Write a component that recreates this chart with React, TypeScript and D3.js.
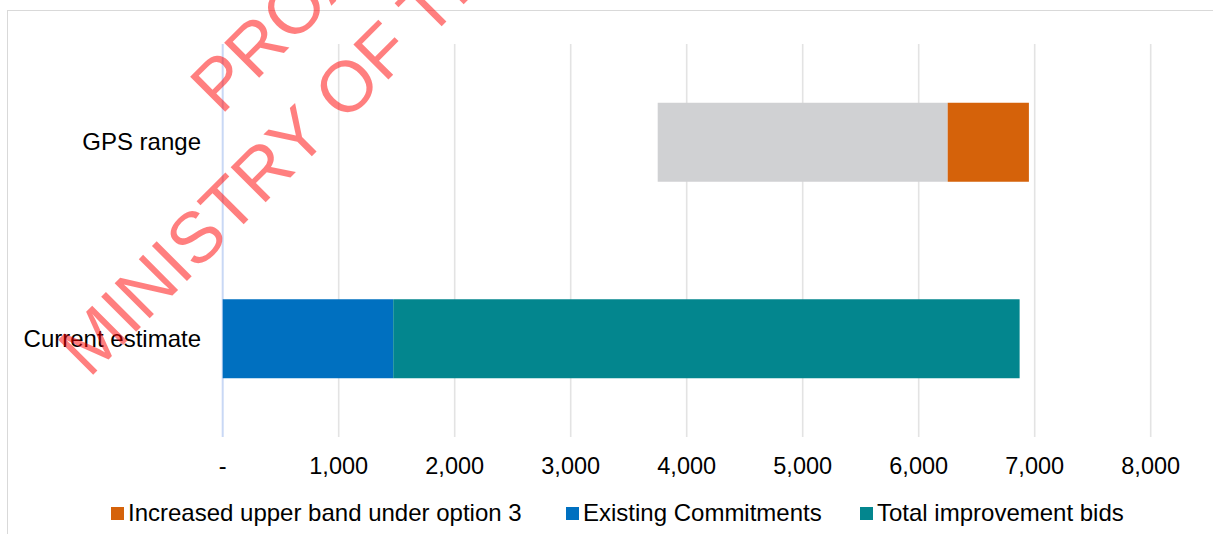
import React from "react";
import * as d3 from "d3";

const categories = ["GPS range", "Current estimate"];
const seriesKeys = ["offset", "gpsBand", "increased", "existing", "improvement"];
const offsetValues = [3750, 0];
const gpsBandValues = [2500, 0];
const increasedValues = [700, 0];
const existingValues = [0, 1470];
const improvementValues = [0, 5400];
const xTicks = [0, 1000, 2000, 3000, 4000, 5000, 6000, 7000, 8000];
const legendItems = [
  { key: "increased", label: "Increased upper band under option 3" },
  { key: "existing", label: "Existing Commitments" },
  { key: "improvement", label: "Total improvement bids" },
];
const watermarkLines = ["PROACTIVELY RELEASED BY THE", "MINISTRY OF TRANSPORT"];

const colors: Record<string, string> = {
  offset: "none",
  gpsBand: "#D0D1D3",
  increased: "#D5620A",
  existing: "#0070C0",
  improvement: "#03868E",
};

const W = 1213;
const H = 534;
const FONT = "'Liberation Sans', Arial, sans-serif";

export default function App() {
  const rows = categories.map((c, i) => ({
    category: c,
    offset: offsetValues[i],
    gpsBand: gpsBandValues[i],
    increased: increasedValues[i],
    existing: existingValues[i],
    improvement: improvementValues[i],
  }));
  const stacked = d3.stack<any>().keys(seriesKeys)(rows);

  const x = d3.scaleLinear().domain([0, 8000]).range([222.7, 1150.7]);
  const y = d3
    .scaleBand<string>()
    .domain(categories)
    .range([44, 437])
    .paddingInner(0.598)
    .paddingOuter(0.299);

  const fmt = (v: number) => (v === 0 ? "-" : d3.format(",")(v));
  const legendX = [111, 566, 860];

  return (
    <div style={{ position: "absolute", left: 0, top: 0 }}>
      <svg width={W} height={H} style={{ display: "block", background: "#fff" }}>
        <rect x={7.5} y={10.5} width={W + 10} height={H + 10} fill="#fff" stroke="#D9D9D9" strokeWidth={1} />
        {xTicks.map((t) => (
          <line
            key={t}
            x1={x(t)}
            x2={x(t)}
            y1={44}
            y2={437}
            stroke={t === 0 ? "#C9D8F5" : "#E3E3E3"}
            strokeWidth={t === 0 ? 2 : 1.6}
          />
        ))}
        {stacked.map((s) =>
          s.key === "offset"
            ? null
            : s.map((d, i) =>
                d[1] - d[0] > 0 ? (
                  <rect
                    key={s.key + i}
                    x={x(d[0])}
                    width={x(d[1]) - x(d[0])}
                    y={y(categories[i])}
                    height={y.bandwidth()}
                    fill={colors[s.key]}
                  />
                ) : null
              )
        )}
        {xTicks.map((t) => (
          <text
            key={"l" + t}
            x={x(t)}
            y={474}
            textAnchor="middle"
            fontFamily={FONT}
            fontSize={23.5}
            fill="#000"
          >
            {fmt(t)}
          </text>
        ))}
        {categories.map((c) => (
          <text
            key={c}
            x={201}
            y={(y(c) as number) + y.bandwidth() / 2 + 8}
            textAnchor="end"
            fontFamily={FONT}
            fontSize={24}
            fill="#000"
          >
            {c}
          </text>
        ))}
        {legendItems.map((it, i) => (
          <g key={it.key} transform={`translate(${legendX[i]},507)`}>
            <rect x={0} y={0} width={13} height={13} fill={colors[it.key]} />
            <text x={17} y={13.5} fontFamily={FONT} fontSize={24} fill="#000">
              {it.label}
            </text>
          </g>
        ))}
        <g fill="#FF0000" fillOpacity={0.5} fontFamily={FONT} fontSize={72}>
          <text transform="translate(221,116) rotate(-45)">{watermarkLines[0]}</text>
          <text transform="translate(89,379) rotate(-45)">{watermarkLines[1]}</text>
        </g>
      </svg>
    </div>
  );
}
